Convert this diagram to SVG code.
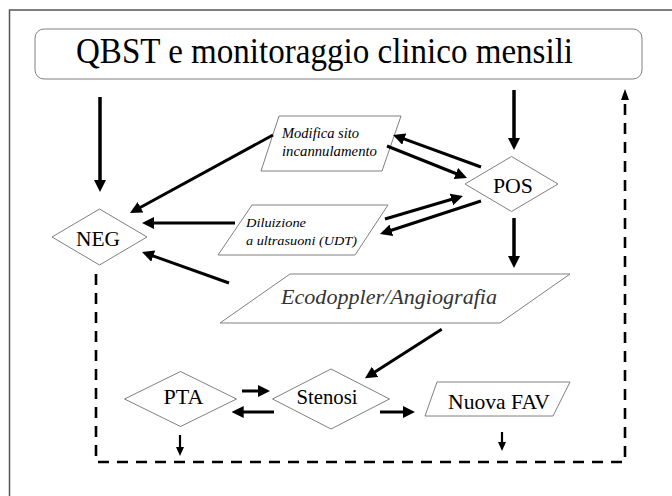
<svg xmlns="http://www.w3.org/2000/svg" width="672" height="496" viewBox="0 0 672 496">
<style>
.shape{fill:#fff;stroke:#808080;stroke-width:1}
text{font-family:'Liberation Serif','Times New Roman',serif;fill:#000}
.it{font-style:italic}
.a{stroke:#000;stroke-width:3;fill:none;marker-end:url(#ah)}
.ab{stroke:#000;stroke-width:3.5;fill:none;marker-end:url(#ah)}
.as{stroke:#000;stroke-width:2.2;fill:none;marker-end:url(#ahs)}
.dash{stroke:#000;stroke-width:2.6;fill:none;stroke-dasharray:11 8;marker-end:url(#ahd)}
</style>
<defs>
<marker id="ah" markerUnits="userSpaceOnUse" markerWidth="12" markerHeight="12" refX="4" refY="6" orient="auto"><path d="M0,0 L12,6 L0,12 z" fill="#000"/></marker>
<marker id="ahs" markerUnits="userSpaceOnUse" markerWidth="9" markerHeight="8" refX="3" refY="4" orient="auto"><path d="M0,0 L9,4 L0,8 z" fill="#000"/></marker>
<marker id="ahd" markerUnits="userSpaceOnUse" markerWidth="11" markerHeight="8" refX="0" refY="4" orient="auto"><path d="M0,0 L11,4 L0,8 z" fill="#000"/></marker>
</defs>
<rect x="0" y="0" width="672" height="496" fill="#fff"/>
<rect x="9.5" y="10" width="720" height="520" fill="none" stroke="#555" stroke-width="1.5"/>

<g id="title">
<rect class="shape" x="35" y="29" width="607" height="50" rx="9"/>
<text x="76" y="63" font-size="35" textLength="497" lengthAdjust="spacingAndGlyphs">QBST e monitoraggio clinico mensili</text>
</g>
<g id="neg">
<polygon class="shape" points="52,237 99.5,209 147,237 99.5,265"/>
<text x="98" y="246" font-size="21" text-anchor="middle" textLength="44" lengthAdjust="spacingAndGlyphs">NEG</text>
</g>
<g id="pos">
<polygon class="shape" points="465,184 511.5,156.5 558,184 511.5,211.5"/>
<text x="513" y="192.5" font-size="21" text-anchor="middle" textLength="40" lengthAdjust="spacingAndGlyphs">POS</text>
</g>
<g id="modifica">
<polygon class="shape" points="279,116 401,116 382,171 261,171"/>
<text class="it" x="282" y="138" font-size="14.5" textLength="77" lengthAdjust="spacingAndGlyphs">Modifica sito</text>
<text class="it" x="282" y="156" font-size="14.5" textLength="95" lengthAdjust="spacingAndGlyphs">incannulamento</text>
</g>
<g id="diluizione">
<polygon class="shape" points="252,205 388,205 355,255 218,255"/>
<text class="it" x="246" y="227" font-size="13.5" textLength="60" lengthAdjust="spacingAndGlyphs">Diluizione</text>
<text class="it" x="246" y="244.5" font-size="13.5" textLength="111" lengthAdjust="spacingAndGlyphs">a ultrasuoni (UDT)</text>
</g>
<g id="ecodoppler">
<polygon class="shape" points="290,274 570,274 500,323 220,323"/>
<text class="it" x="281" y="304" font-size="22" style="fill:#333" textLength="216" lengthAdjust="spacingAndGlyphs">Ecodoppler/Angiografia</text>
</g>
<g id="pta">
<polygon class="shape" points="124.5,399 180.5,371.5 236.5,399 180.5,426.5"/>
<text x="183.5" y="404" font-size="21" text-anchor="middle" textLength="40" lengthAdjust="spacingAndGlyphs">PTA</text>
</g>
<g id="stenosi">
<polygon class="shape" points="272.5,399 331,369 389.5,399 331,429"/>
<text x="327" y="404" font-size="21" text-anchor="middle" textLength="61" lengthAdjust="spacingAndGlyphs">Stenosi</text>
</g>
<g id="nuovafav">
<polygon class="shape" points="437,382 570,382 553,416 425,416"/>
<text x="448" y="409" font-size="21" textLength="102" lengthAdjust="spacingAndGlyphs">Nuova FAV</text>
</g>

<g id="connectors">
<line class="ab" x1="100" y1="97" x2="100" y2="184"/>
<line class="ab" x1="514" y1="90" x2="514" y2="142"/>
<line class="ab" x1="514" y1="218" x2="514" y2="260"/>
<line class="a" x1="273" y1="135" x2="137" y2="209.2"/>
<line class="a" x1="235" y1="223" x2="150" y2="223"/>
<line class="a" x1="229" y1="283" x2="149.5" y2="254.7"/>
<line class="a" x1="481" y1="167" x2="400.5" y2="137.7"/>
<line class="a" x1="387" y1="146" x2="459.6" y2="175"/>
<line class="a" x1="385" y1="219" x2="455.3" y2="198.3"/>
<line class="a" x1="481" y1="201" x2="387.6" y2="231.5"/>
<line class="a" x1="441.7" y1="329.3" x2="371.7" y2="374"/>
<line class="a" x1="242" y1="391" x2="262" y2="391"/>
<line class="a" x1="274" y1="412" x2="239.7" y2="412"/>
<line class="a" x1="380" y1="412" x2="407" y2="412"/>
<line class="as" x1="180" y1="435" x2="180" y2="450"/>
<line class="as" x1="502" y1="432" x2="502" y2="445"/>
<path class="dash" d="M96,274 V462 H625 V100"/>
</g>
</svg>
